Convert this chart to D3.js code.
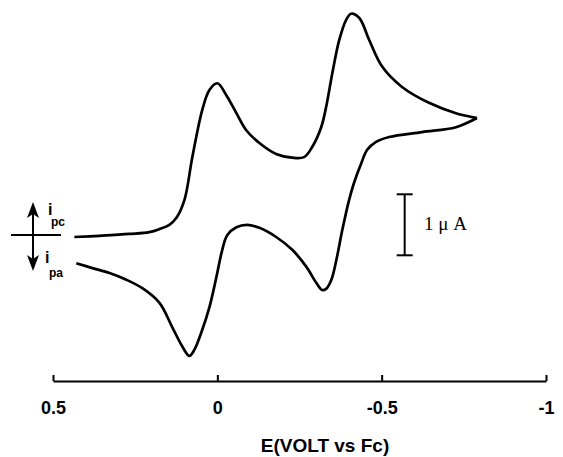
<!DOCTYPE html>
<html><head><meta charset="utf-8">
<script src="https://cdn.jsdelivr.net/npm/d3@7"></script>
<style>body{margin:0;background:#fff}svg{display:block}</style>
</head><body>
<script>
// Potential (V vs Fc) and current (μA, cathodic positive)
const forwardE = [0.435,0.359,0.267,0.207,0.176,0.146,0.125,0.100,0.076,0.046,0.024,0.000,-0.030,-0.058,-0.088,-0.128,-0.179,-0.228,-0.264,-0.289,-0.316,-0.331,-0.350,-0.371,-0.392,-0.407,-0.432,-0.462,-0.502,-0.562,-0.644,-0.726,-0.790];
const forwardI = [0.00,0.02,0.05,0.08,0.13,0.20,0.31,0.61,1.31,2.08,2.41,2.52,2.30,2.03,1.75,1.54,1.36,1.30,1.31,1.48,1.80,2.13,2.69,3.23,3.56,3.66,3.59,3.23,2.79,2.46,2.20,2.03,1.95];
const reverseE = [-0.790,-0.726,-0.623,-0.523,-0.483,-0.456,-0.438,-0.416,-0.401,-0.380,-0.362,-0.347,-0.331,-0.319,-0.301,-0.271,-0.228,-0.179,-0.128,-0.091,-0.058,-0.030,-0.015,0.003,0.024,0.049,0.070,0.085,0.106,0.137,0.176,0.228,0.277,0.328,0.380,0.429];
const reverseI = [1.95,1.80,1.72,1.64,1.56,1.43,1.21,0.89,0.61,0.11,-0.38,-0.70,-0.85,-0.87,-0.75,-0.49,-0.21,0.00,0.15,0.20,0.16,0.03,-0.21,-0.66,-1.15,-1.57,-1.85,-1.95,-1.80,-1.48,-1.08,-0.84,-0.70,-0.59,-0.51,-0.43];
const tickValues = [0.5, 0, -0.5, -1];
const tickLabels = ["0.5", "0", "-0.5", "-1"];
const xTitle = "E(VOLT vs Fc)";
const scaleBarLabel = "1 μ A";
const scaleBarRange = [0.70, -0.30]; // 1 μA bar, top and bottom current

const W = 563, H = 457;
const svg = d3.select("body").append("svg").attr("width", W).attr("height", H);

const x = d3.scaleLinear().domain([0.5, -1]).range([53, 546]);
const y = d3.scaleLinear().domain([0, 1]).range([237, 176]);

const line = d3.line().x((d) => x(d[0])).y((d) => y(d[1])).curve(d3.curveCatmullRom.alpha(0.5));
const fwd = forwardE.map((e, i) => [e, forwardI[i]]);
const rev = reverseE.map((e, i) => [e, reverseI[i]]);
[fwd, rev].forEach(data => {
  svg.append("path").datum(data).attr("d", line)
    .attr("fill", "none").attr("stroke", "#000").attr("stroke-width", 2.7)
    .attr("stroke-linejoin", "round");
});

const sans = "Liberation Sans, Arial, sans-serif";

// x axis
const axis = d3.axisBottom(x).tickValues(tickValues).tickFormat((d, i) => tickLabels[i]).tickSize(-6).tickSizeOuter(0).tickPadding(20);
const gA = svg.append("g").attr("transform", "translate(0,381)").call(axis);
gA.select(".domain").attr("stroke", "#000").attr("stroke-width", 2);
gA.selectAll(".tick line").attr("stroke", "#000").attr("stroke-width", 2);
gA.selectAll(".tick text").attr("font-family", sans)
  .attr("font-weight", "bold").attr("font-size", 18).attr("fill", "#000");

svg.append("text").attr("x", 325).attr("y", 452).attr("text-anchor", "middle")
  .attr("font-family", sans).attr("font-weight", "bold")
  .attr("font-size", 19).text(xTitle);

// scale bar (1 μA)
const sbx = x(-0.57);
const sb = svg.append("g").attr("stroke", "#000").attr("stroke-width", 2);
sb.append("line").attr("x1", sbx).attr("x2", sbx).attr("y1", y(scaleBarRange[0])).attr("y2", y(scaleBarRange[1]));
scaleBarRange.forEach(v => sb.append("line").attr("x1", sbx - 8).attr("x2", sbx + 8).attr("y1", y(v)).attr("y2", y(v)));
svg.append("text").attr("x", 424).attr("y", 230).attr("font-family", "Liberation Serif, Times New Roman, serif")
  .attr("font-size", 19).text(scaleBarLabel);

// current direction marker
const m = svg.append("g");
m.append("line").attr("x1", 11).attr("x2", 61).attr("y1", 235).attr("y2", 235).attr("stroke", "#000").attr("stroke-width", 2);
m.append("line").attr("x1", 33).attr("x2", 33).attr("y1", 208).attr("y2", 264).attr("stroke", "#000").attr("stroke-width", 2);
m.append("path").attr("d", "M33,202 L27,218 L33,214 L39,218 Z").attr("fill", "#000");
m.append("path").attr("d", "M33,271 L27,255 L33,259 L39,255 Z").attr("fill", "#000");
m.append("text").attr("x", 48).attr("y", 215).attr("font-family", sans).attr("font-weight", "bold").attr("font-size", 16).text("i");
m.append("text").attr("x", 51).attr("y", 226).attr("font-family", sans).attr("font-weight", "bold").attr("font-size", 12).text("pc");
m.append("text").attr("x", 45).attr("y", 263).attr("font-family", sans).attr("font-weight", "bold").attr("font-size", 16).text("i");
m.append("text").attr("x", 49).attr("y", 277).attr("font-family", sans).attr("font-weight", "bold").attr("font-size", 12).text("pa");
</script>
</body></html>
